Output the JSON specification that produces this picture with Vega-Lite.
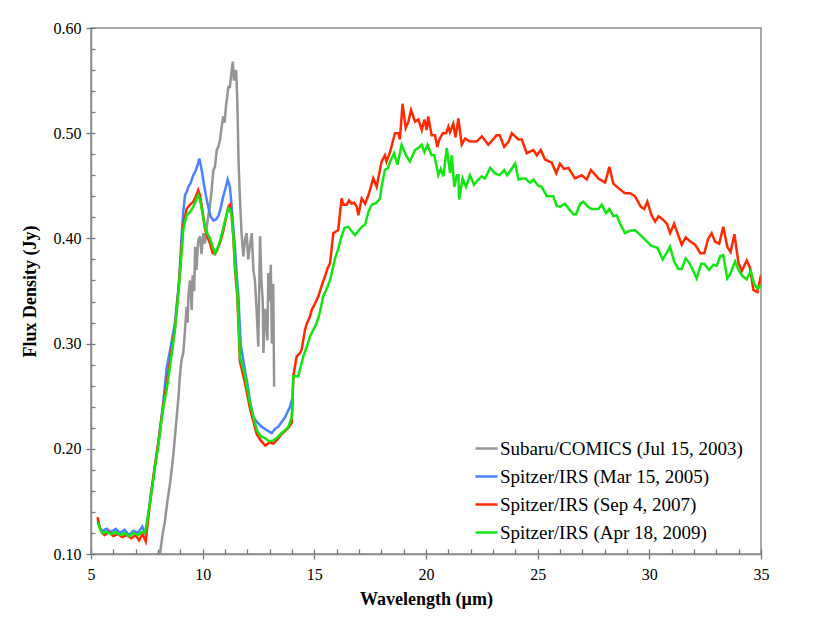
{
  "$schema": "https://vega.github.io/schema/vega-lite/v6.json",
  "width": 670,
  "height": 526,
  "autosize": {"type": "none"},
  "padding": {"left": 91, "top": 28, "right": 69, "bottom": 88},
  "background": "white",
  "config": {
    "view": {"stroke": "#8c8c8c", "strokeWidth": 1.5},
    "font": "Liberation Serif",
    "axis": {
      "grid": false,
      "domainColor": "#8c8c8c",
      "domainWidth": 1.5,
      "tickColor": "#777777",
      "tickWidth": 1.3,
      "labelFont": "Liberation Serif",
      "labelFontSize": 16,
      "labelColor": "black",
      "titleFont": "Liberation Serif",
      "titleFontSize": 18,
      "titleFontWeight": "bold",
      "titleColor": "black",
      "labelOverlap": false,
      "labelFlush": false
    }
  },
  "resolve": {"axis": {"x": "independent", "y": "independent"}},
  "layer": [
    {
      "data": {"values": [
        {"x":8.09,"y":0.1},{"x":8.2,"y":0.118},{"x":8.31,"y":0.131},{"x":8.42,"y":0.15},{"x":8.54,"y":0.167},{"x":8.69,"y":0.195},{"x":8.84,"y":0.231},{"x":8.92,"y":0.25},{"x":8.99,"y":0.272},{"x":9.06,"y":0.285},{"x":9.13,"y":0.291},{"x":9.2,"y":0.31},{"x":9.28,"y":0.335},{"x":9.33,"y":0.32},{"x":9.36,"y":0.345},{"x":9.43,"y":0.36},{"x":9.51,"y":0.332},{"x":9.55,"y":0.365},{"x":9.62,"y":0.35},{"x":9.66,"y":0.392},{"x":9.72,"y":0.37},{"x":9.8,"y":0.398},{"x":9.88,"y":0.402},{"x":9.95,"y":0.385},{"x":10.03,"y":0.405},{"x":10.1,"y":0.395},{"x":10.18,"y":0.41},{"x":10.25,"y":0.421},{"x":10.32,"y":0.43},{"x":10.4,"y":0.446},{"x":10.48,"y":0.465},{"x":10.55,"y":0.468},{"x":10.63,"y":0.484},{"x":10.7,"y":0.487},{"x":10.78,"y":0.494},{"x":10.85,"y":0.506},{"x":10.92,"y":0.516},{"x":10.98,"y":0.51},{"x":11.05,"y":0.527},{"x":11.1,"y":0.535},{"x":11.15,"y":0.544},{"x":11.22,"y":0.544},{"x":11.28,"y":0.556},{"x":11.35,"y":0.568},{"x":11.4,"y":0.55},{"x":11.45,"y":0.557},{"x":11.5,"y":0.56},{"x":11.55,"y":0.532},{"x":11.61,"y":0.471},{"x":11.67,"y":0.437},{"x":11.74,"y":0.405},{"x":11.82,"y":0.383},{"x":11.9,"y":0.4},{"x":11.97,"y":0.405},{"x":12.04,"y":0.38},{"x":12.1,"y":0.39},{"x":12.2,"y":0.405},{"x":12.27,"y":0.37},{"x":12.34,"y":0.36},{"x":12.42,"y":0.33},{"x":12.49,"y":0.297},{"x":12.57,"y":0.402},{"x":12.63,"y":0.36},{"x":12.69,"y":0.341},{"x":12.72,"y":0.291},{"x":12.79,"y":0.333},{"x":12.85,"y":0.32},{"x":12.9,"y":0.303},{"x":12.94,"y":0.367},{"x":13.0,"y":0.34},{"x":13.05,"y":0.375},{"x":13.1,"y":0.3},{"x":13.16,"y":0.357},{"x":13.2,"y":0.259}
      ]},
      "mark": {"type": "line", "strokeWidth": 2.5, "clip": true},
      "encoding": {
        "x": {
          "field": "x",
          "type": "quantitative",
          "scale": {"domain": [5, 35], "nice": false, "zero": false},
          "axis": {
            "title": "Wavelength (µm)",
            "values": [5, 10, 15, 20, 25, 30, 35],
            "tickSize": 5,
            "labelPadding": 7,
            "titlePadding": 8
          }
        },
        "y": {
          "field": "y",
          "type": "quantitative",
          "scale": {"domain": [0.1, 0.6], "nice": false, "zero": false},
          "axis": {
            "title": "Flux Density (Jy)",
            "values": [0.1, 0.2, 0.3, 0.4, 0.5, 0.6],
            "format": ".2f",
            "tickSize": 5,
            "labelPadding": 5,
            "titlePadding": 14
          }
        },
        "color": {
          "datum": "Subaru/COMICS (Jul 15, 2003)",
          "type": "nominal",
          "scale": {
            "domain": ["Subaru/COMICS (Jul 15, 2003)", "Spitzer/IRS (Mar 15, 2005)", "Spitzer/IRS (Sep 4, 2007)", "Spitzer/IRS (Apr 18, 2009)"],
            "range": ["#959595", "#4a82ff", "#ff2a00", "#11e611"]
          },
          "legend": {
            "title": null,
            "orient": "none",
            "legendX": 383,
            "legendY": 408,
            "symbolType": "stroke",
            "symbolSize": 484,
            "symbolStrokeWidth": 2.5,
            "labelFont": "Liberation Serif",
            "labelFontSize": 19,
            "labelColor": "black",
            "labelOffset": 1,
            "rowPadding": 5,
            "labelLimit": 400
          }
        }
      }
    },
    {
      "data": {"values": [
        {"x":5.3,"y":0.133},{"x":5.4,"y":0.125},{"x":5.5,"y":0.122},{"x":5.7,"y":0.124},{"x":5.9,"y":0.121},{"x":6.1,"y":0.124},{"x":6.3,"y":0.12},{"x":6.5,"y":0.123},{"x":6.7,"y":0.118},{"x":6.9,"y":0.122},{"x":7.1,"y":0.12},{"x":7.3,"y":0.126},{"x":7.45,"y":0.118},{"x":7.55,"y":0.135},{"x":7.7,"y":0.16},{"x":7.87,"y":0.185},{"x":8.01,"y":0.205},{"x":8.24,"y":0.245},{"x":8.39,"y":0.277},{"x":8.55,"y":0.295},{"x":8.76,"y":0.32},{"x":8.95,"y":0.36},{"x":9.05,"y":0.4},{"x":9.13,"y":0.425},{"x":9.21,"y":0.441},{"x":9.3,"y":0.445},{"x":9.36,"y":0.449},{"x":9.45,"y":0.452},{"x":9.58,"y":0.46},{"x":9.7,"y":0.465},{"x":9.78,"y":0.47},{"x":9.85,"y":0.476},{"x":9.93,"y":0.468},{"x":10.03,"y":0.455},{"x":10.15,"y":0.44},{"x":10.25,"y":0.43},{"x":10.35,"y":0.421},{"x":10.48,"y":0.417},{"x":10.6,"y":0.418},{"x":10.7,"y":0.421},{"x":10.8,"y":0.428},{"x":10.92,"y":0.44},{"x":11.03,"y":0.448},{"x":11.12,"y":0.456},{"x":11.22,"y":0.449},{"x":11.3,"y":0.43},{"x":11.37,"y":0.411},{"x":11.45,"y":0.39},{"x":11.52,"y":0.367},{"x":11.6,"y":0.345},{"x":11.7,"y":0.3},{"x":11.85,"y":0.28},{"x":12.0,"y":0.262},{"x":12.15,"y":0.242},{"x":12.27,"y":0.23},{"x":12.45,"y":0.225},{"x":12.64,"y":0.221},{"x":12.85,"y":0.218},{"x":13.09,"y":0.215},{"x":13.25,"y":0.219},{"x":13.39,"y":0.221},{"x":13.55,"y":0.226},{"x":13.69,"y":0.23},{"x":13.8,"y":0.235},{"x":13.91,"y":0.24},{"x":14.0,"y":0.247}
      ]},
      "mark": {"type": "line", "strokeWidth": 2.5, "clip": true},
      "encoding": {
        "x": {
          "field": "x",
          "type": "quantitative",
          "scale": {"domain": [5, 35], "nice": false, "zero": false},
          "axis": {
            "orient": "top",
            "offset": -526,
            "values": [5,6,7,8,9,10,11,12,13,14,15,16,17,18,19,20,21,22,23,24,25,26,27,28,29,30,31,32,33,34,35],
            "labels": false,
            "title": null,
            "domain": false,
            "tickSize": 5
          }
        },
        "y": {
          "field": "y",
          "type": "quantitative",
          "scale": {"domain": [0.1, 0.6], "nice": false, "zero": false},
          "axis": {
            "orient": "right",
            "offset": -670,
            "values": [0.1,0.12,0.14,0.16,0.18,0.2,0.22,0.24,0.26,0.28,0.3,0.32,0.34,0.36,0.38,0.4,0.42,0.44,0.46,0.48,0.5,0.52,0.54,0.56,0.58,0.6],
            "labels": false,
            "title": null,
            "domain": false,
            "tickSize": 4
          }
        },
        "color": {"datum": "Spitzer/IRS (Mar 15, 2005)", "type": "nominal"}
      }
    },
    {
      "data": {"values": [
        {"x":5.3,"y":0.135},{"x":5.35,"y":0.128},{"x":5.45,"y":0.122},{"x":5.6,"y":0.118},{"x":5.8,"y":0.121},{"x":6.0,"y":0.117},{"x":6.2,"y":0.119},{"x":6.4,"y":0.116},{"x":6.6,"y":0.118},{"x":6.8,"y":0.115},{"x":7.0,"y":0.118},{"x":7.15,"y":0.113},{"x":7.3,"y":0.119},{"x":7.45,"y":0.112},{"x":7.55,"y":0.132},{"x":7.7,"y":0.158},{"x":7.87,"y":0.185},{"x":8.01,"y":0.205},{"x":8.24,"y":0.242},{"x":8.39,"y":0.262},{"x":8.55,"y":0.285},{"x":8.76,"y":0.315},{"x":8.91,"y":0.35},{"x":9.0,"y":0.375},{"x":9.13,"y":0.412},{"x":9.28,"y":0.428},{"x":9.43,"y":0.432},{"x":9.58,"y":0.435},{"x":9.7,"y":0.44},{"x":9.8,"y":0.446},{"x":9.88,"y":0.441},{"x":9.98,"y":0.428},{"x":10.1,"y":0.41},{"x":10.2,"y":0.402},{"x":10.33,"y":0.395},{"x":10.45,"y":0.386},{"x":10.55,"y":0.385},{"x":10.65,"y":0.389},{"x":10.78,"y":0.396},{"x":10.9,"y":0.405},{"x":11.0,"y":0.415},{"x":11.15,"y":0.43},{"x":11.22,"y":0.432},{"x":11.3,"y":0.421},{"x":11.38,"y":0.4},{"x":11.45,"y":0.37},{"x":11.55,"y":0.345},{"x":11.67,"y":0.283},{"x":11.9,"y":0.262},{"x":12.12,"y":0.238},{"x":12.42,"y":0.214},{"x":12.6,"y":0.208},{"x":12.8,"y":0.203},{"x":13.0,"y":0.206},{"x":13.16,"y":0.205},{"x":13.35,"y":0.209},{"x":13.54,"y":0.214},{"x":13.7,"y":0.217},{"x":13.84,"y":0.22},{"x":13.99,"y":0.225},{"x":14.06,"y":0.269},{"x":14.21,"y":0.288},{"x":14.36,"y":0.291},{"x":14.43,"y":0.294},{"x":14.58,"y":0.313},{"x":14.66,"y":0.319},{"x":14.81,"y":0.326},{"x":14.88,"y":0.332},{"x":15.03,"y":0.338},{"x":15.18,"y":0.345},{"x":15.33,"y":0.355},{"x":15.48,"y":0.364},{"x":15.6,"y":0.372},{"x":15.7,"y":0.376},{"x":15.85,"y":0.405},{"x":16.07,"y":0.408},{"x":16.22,"y":0.438},{"x":16.3,"y":0.432},{"x":16.45,"y":0.432},{"x":16.55,"y":0.436},{"x":16.67,"y":0.433},{"x":16.78,"y":0.434},{"x":16.9,"y":0.43},{"x":16.97,"y":0.422},{"x":17.12,"y":0.438},{"x":17.27,"y":0.433},{"x":17.42,"y":0.441},{"x":17.64,"y":0.457},{"x":17.79,"y":0.449},{"x":18.01,"y":0.473},{"x":18.16,"y":0.479},{"x":18.23,"y":0.473},{"x":18.39,"y":0.482},{"x":18.61,"y":0.5},{"x":18.76,"y":0.5},{"x":18.83,"y":0.494},{"x":18.95,"y":0.528},{"x":19.09,"y":0.505},{"x":19.21,"y":0.511},{"x":19.33,"y":0.522},{"x":19.51,"y":0.511},{"x":19.66,"y":0.513},{"x":19.81,"y":0.503},{"x":19.93,"y":0.513},{"x":20.03,"y":0.503},{"x":20.1,"y":0.516},{"x":20.25,"y":0.498},{"x":20.4,"y":0.498},{"x":20.51,"y":0.487},{"x":20.6,"y":0.494},{"x":20.75,"y":0.5},{"x":20.9,"y":0.5},{"x":21.0,"y":0.506},{"x":21.07,"y":0.501},{"x":21.22,"y":0.509},{"x":21.32,"y":0.496},{"x":21.45,"y":0.514},{"x":21.6,"y":0.489},{"x":21.75,"y":0.495},{"x":21.97,"y":0.492},{"x":22.27,"y":0.492},{"x":22.5,"y":0.497},{"x":22.79,"y":0.489},{"x":23.16,"y":0.498},{"x":23.3,"y":0.498},{"x":23.5,"y":0.487},{"x":23.7,"y":0.492},{"x":23.84,"y":0.5},{"x":24.14,"y":0.494},{"x":24.29,"y":0.494},{"x":24.51,"y":0.481},{"x":24.81,"y":0.484},{"x":24.96,"y":0.479},{"x":25.14,"y":0.484},{"x":25.33,"y":0.475},{"x":25.63,"y":0.472},{"x":25.83,"y":0.462},{"x":26.0,"y":0.471},{"x":26.18,"y":0.466},{"x":26.38,"y":0.467},{"x":26.67,"y":0.457},{"x":26.97,"y":0.46},{"x":27.2,"y":0.456},{"x":27.38,"y":0.465},{"x":27.72,"y":0.457},{"x":28.02,"y":0.453},{"x":28.21,"y":0.468},{"x":28.39,"y":0.452},{"x":28.6,"y":0.448},{"x":28.91,"y":0.443},{"x":29.14,"y":0.443},{"x":29.36,"y":0.44},{"x":29.62,"y":0.43},{"x":29.77,"y":0.428},{"x":29.91,"y":0.435},{"x":30.1,"y":0.422},{"x":30.26,"y":0.416},{"x":30.41,"y":0.421},{"x":30.6,"y":0.418},{"x":30.78,"y":0.414},{"x":30.93,"y":0.405},{"x":31.11,"y":0.414},{"x":31.26,"y":0.405},{"x":31.45,"y":0.394},{"x":31.63,"y":0.401},{"x":31.83,"y":0.397},{"x":32.05,"y":0.394},{"x":32.28,"y":0.386},{"x":32.46,"y":0.386},{"x":32.64,"y":0.4},{"x":32.79,"y":0.405},{"x":32.94,"y":0.397},{"x":33.13,"y":0.395},{"x":33.31,"y":0.411},{"x":33.49,"y":0.392},{"x":33.64,"y":0.387},{"x":33.81,"y":0.404},{"x":33.99,"y":0.377},{"x":34.14,"y":0.369},{"x":34.36,"y":0.379},{"x":34.51,"y":0.372},{"x":34.66,"y":0.351},{"x":34.84,"y":0.349},{"x":35.0,"y":0.365}
      ]},
      "mark": {"type": "line", "strokeWidth": 2.5, "clip": true},
      "encoding": {
        "x": {"field": "x", "type": "quantitative", "scale": {"domain": [5, 35], "nice": false, "zero": false}, "axis": null},
        "y": {"field": "y", "type": "quantitative", "scale": {"domain": [0.1, 0.6], "nice": false, "zero": false}, "axis": null},
        "color": {"datum": "Spitzer/IRS (Sep 4, 2007)", "type": "nominal"}
      }
    },
    {
      "data": {"values": [
        {"x":5.3,"y":0.13},{"x":5.4,"y":0.124},{"x":5.5,"y":0.12},{"x":5.7,"y":0.121},{"x":5.9,"y":0.119},{"x":6.1,"y":0.121},{"x":6.3,"y":0.118},{"x":6.5,"y":0.12},{"x":6.7,"y":0.117},{"x":6.9,"y":0.12},{"x":7.1,"y":0.118},{"x":7.3,"y":0.121},{"x":7.42,"y":0.12},{"x":7.57,"y":0.139},{"x":7.72,"y":0.16},{"x":7.87,"y":0.183},{"x":8.01,"y":0.202},{"x":8.24,"y":0.24},{"x":8.39,"y":0.256},{"x":8.55,"y":0.28},{"x":8.76,"y":0.313},{"x":8.91,"y":0.348},{"x":9.0,"y":0.37},{"x":9.13,"y":0.408},{"x":9.28,"y":0.422},{"x":9.43,"y":0.425},{"x":9.58,"y":0.43},{"x":9.7,"y":0.436},{"x":9.8,"y":0.441},{"x":9.88,"y":0.437},{"x":9.98,"y":0.425},{"x":10.1,"y":0.411},{"x":10.2,"y":0.405},{"x":10.33,"y":0.4},{"x":10.45,"y":0.392},{"x":10.55,"y":0.386},{"x":10.65,"y":0.39},{"x":10.78,"y":0.398},{"x":10.9,"y":0.408},{"x":11.0,"y":0.417},{"x":11.15,"y":0.429},{"x":11.22,"y":0.428},{"x":11.3,"y":0.421},{"x":11.38,"y":0.4},{"x":11.45,"y":0.373},{"x":11.55,"y":0.351},{"x":11.67,"y":0.288},{"x":11.9,"y":0.269},{"x":12.12,"y":0.243},{"x":12.42,"y":0.218},{"x":12.6,"y":0.212},{"x":12.8,"y":0.21},{"x":13.0,"y":0.207},{"x":13.16,"y":0.208},{"x":13.35,"y":0.211},{"x":13.54,"y":0.215},{"x":13.7,"y":0.218},{"x":13.84,"y":0.221},{"x":13.99,"y":0.23},{"x":14.06,"y":0.269},{"x":14.28,"y":0.269},{"x":14.51,"y":0.288},{"x":14.66,"y":0.297},{"x":14.81,"y":0.307},{"x":15.1,"y":0.319},{"x":15.25,"y":0.33},{"x":15.4,"y":0.345},{"x":15.55,"y":0.352},{"x":15.7,"y":0.36},{"x":15.93,"y":0.381},{"x":16.07,"y":0.39},{"x":16.22,"y":0.402},{"x":16.35,"y":0.41},{"x":16.52,"y":0.411},{"x":16.67,"y":0.407},{"x":16.82,"y":0.403},{"x":16.97,"y":0.407},{"x":17.12,"y":0.411},{"x":17.27,"y":0.413},{"x":17.42,"y":0.425},{"x":17.57,"y":0.432},{"x":17.79,"y":0.434},{"x":17.94,"y":0.438},{"x":18.01,"y":0.449},{"x":18.16,"y":0.465},{"x":18.3,"y":0.467},{"x":18.39,"y":0.473},{"x":18.57,"y":0.481},{"x":18.72,"y":0.47},{"x":18.91,"y":0.489},{"x":19.1,"y":0.479},{"x":19.28,"y":0.473},{"x":19.51,"y":0.484},{"x":19.66,"y":0.486},{"x":19.81,"y":0.489},{"x":19.93,"y":0.482},{"x":20.07,"y":0.489},{"x":20.25,"y":0.479},{"x":20.37,"y":0.479},{"x":20.48,"y":0.468},{"x":20.55,"y":0.46},{"x":20.66,"y":0.466},{"x":20.78,"y":0.459},{"x":20.93,"y":0.486},{"x":21.08,"y":0.462},{"x":21.15,"y":0.479},{"x":21.27,"y":0.449},{"x":21.38,"y":0.46},{"x":21.45,"y":0.46},{"x":21.48,"y":0.437},{"x":21.64,"y":0.457},{"x":21.79,"y":0.449},{"x":21.97,"y":0.46},{"x":22.15,"y":0.451},{"x":22.3,"y":0.455},{"x":22.5,"y":0.459},{"x":22.64,"y":0.457},{"x":22.87,"y":0.467},{"x":23.08,"y":0.462},{"x":23.29,"y":0.46},{"x":23.5,"y":0.465},{"x":23.64,"y":0.46},{"x":23.8,"y":0.465},{"x":23.99,"y":0.471},{"x":24.14,"y":0.456},{"x":24.29,"y":0.457},{"x":24.44,"y":0.457},{"x":24.66,"y":0.453},{"x":24.81,"y":0.456},{"x":25.03,"y":0.45},{"x":25.18,"y":0.449},{"x":25.41,"y":0.44},{"x":25.7,"y":0.44},{"x":25.85,"y":0.431},{"x":26.0,"y":0.43},{"x":26.22,"y":0.433},{"x":26.4,"y":0.428},{"x":26.6,"y":0.423},{"x":26.72,"y":0.423},{"x":26.9,"y":0.433},{"x":27.05,"y":0.435},{"x":27.25,"y":0.43},{"x":27.42,"y":0.428},{"x":27.72,"y":0.428},{"x":27.87,"y":0.432},{"x":28.06,"y":0.424},{"x":28.21,"y":0.428},{"x":28.39,"y":0.421},{"x":28.54,"y":0.422},{"x":28.69,"y":0.414},{"x":28.91,"y":0.405},{"x":29.1,"y":0.407},{"x":29.36,"y":0.408},{"x":29.66,"y":0.402},{"x":29.9,"y":0.397},{"x":30.08,"y":0.393},{"x":30.36,"y":0.391},{"x":30.6,"y":0.38},{"x":30.93,"y":0.392},{"x":31.11,"y":0.378},{"x":31.3,"y":0.371},{"x":31.45,"y":0.371},{"x":31.63,"y":0.381},{"x":31.78,"y":0.377},{"x":31.95,"y":0.37},{"x":32.12,"y":0.362},{"x":32.32,"y":0.376},{"x":32.46,"y":0.376},{"x":32.68,"y":0.37},{"x":32.87,"y":0.375},{"x":33.02,"y":0.374},{"x":33.17,"y":0.383},{"x":33.31,"y":0.384},{"x":33.49,"y":0.362},{"x":33.64,"y":0.367},{"x":33.84,"y":0.378},{"x":33.99,"y":0.37},{"x":34.18,"y":0.364},{"x":34.36,"y":0.361},{"x":34.54,"y":0.369},{"x":34.69,"y":0.357},{"x":34.85,"y":0.352},{"x":34.99,"y":0.356}
      ]},
      "mark": {"type": "line", "strokeWidth": 2.5, "clip": true},
      "encoding": {
        "x": {"field": "x", "type": "quantitative", "scale": {"domain": [5, 35], "nice": false, "zero": false}, "axis": null},
        "y": {"field": "y", "type": "quantitative", "scale": {"domain": [0.1, 0.6], "nice": false, "zero": false}, "axis": null},
        "color": {"datum": "Spitzer/IRS (Apr 18, 2009)", "type": "nominal"}
      }
    }
  ]
}
